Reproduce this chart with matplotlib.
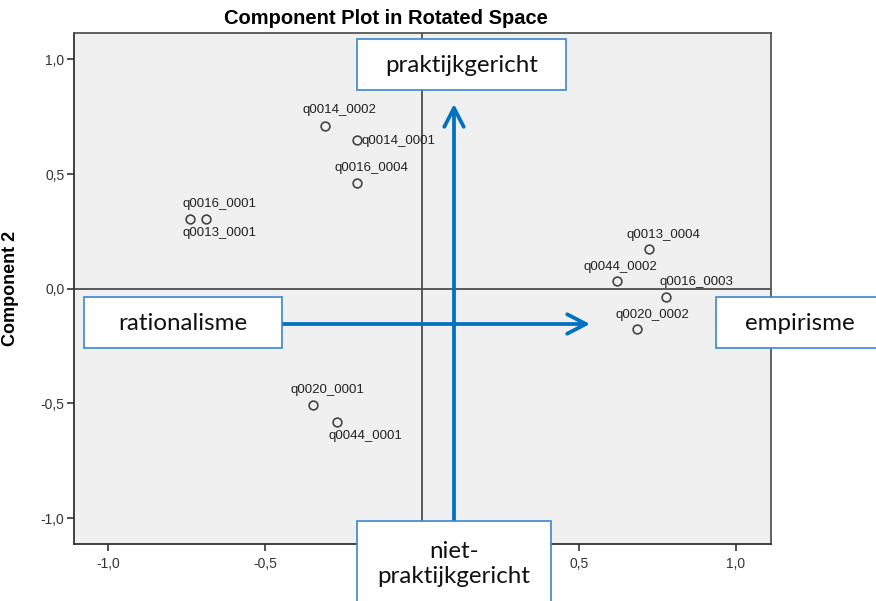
import matplotlib
matplotlib.use('Agg')
import matplotlib.pyplot as plt
from matplotlib.patches import Rectangle, FancyArrowPatch
from matplotlib.ticker import FuncFormatter

# component loadings
names = ['q0014_0002', 'q0014_0001', 'q0016_0004', 'q0016_0001', 'q0013_0001',
         'q0020_0001', 'q0044_0001', 'q0013_0004', 'q0044_0002', 'q0016_0003',
         'q0020_0002']
comp1 = [-0.309, -0.207, -0.207, -0.688, -0.740, -0.346, -0.272,
         0.723, 0.620, 0.776, 0.686]
comp2 = [0.711, 0.648, 0.462, 0.305, 0.302, -0.507, -0.582,
         0.173, 0.035, -0.036, -0.177]
ticks = [-1.0, -0.5, 0.0, 0.5, 1.0]

# where SPSS put each label, relative to its point (pixels)
label_offsets = {
    'q0014_0002': (15, 15.5), 'q0014_0001': (42, -1), 'q0016_0004': (14, 15),
    'q0016_0001': (13.5, 15), 'q0013_0001': (30, -14), 'q0020_0001': (14.5, 15),
    'q0044_0001': (29, -13.5), 'q0013_0004': (14, 14.5), 'q0044_0002': (4, 13.5),
    'q0016_0003': (30.5, 15.3), 'q0020_0002': (15, 14.3),
}

W, H = 876, 601
fig = plt.figure(figsize=(W / 100, H / 100), dpi=100)
ax = fig.add_axes([74 / W, 1 - 544 / H, 696.7 / W, 511 / H])
ax.set_facecolor('#f0f0f0')

ax.axhline(0, color='#4d4d4d', lw=1.3, zorder=1)
ax.axvline(0, color='#4d4d4d', lw=1.3, zorder=1)

ax.plot(comp1, comp2, 'o', ms=6.3, mfc='none', mec='#444444', mew=1.2, zorder=3)
for n, x, y in zip(names, comp1, comp2):
    dx, dy = label_offsets[n]
    ax.annotate(n, (x, y), xytext=(dx, dy), textcoords='offset pixels',
                ha='center', va='center', fontsize=9.5,
                family='Liberation Sans', color='#222222')

ax.set_xlim(-1.108, 1.1105)
ax.set_ylim(-1.113, 1.115)
ax.set_xticks(ticks)
ax.set_yticks(ticks)
fmt = FuncFormatter(lambda v, p: f'{v:.1f}'.replace('.', ','))
# the x label at 0 sits under the "niet-praktijkgericht" box
xfmt = FuncFormatter(lambda v, p: '' if abs(v) < 1e-9 else f'{v:.1f}'.replace('.', ','))
ax.xaxis.set_major_formatter(xfmt)
ax.yaxis.set_major_formatter(fmt)
ax.tick_params(length=5, width=1.2, color='#333333', labelsize=10,
               labelcolor='#333333', pad=2)
ax.tick_params(axis='x', pad=4)
for lab in ax.get_xticklabels() + ax.get_yticklabels():
    lab.set_family('Liberation Sans')
for s in ['top', 'right']:
    ax.spines[s].set_color('#555555')
for s in ['left', 'bottom']:
    ax.spines[s].set_color('#333333')
for s in ax.spines.values():
    s.set_linewidth(1.3)

ax.set_ylabel('Component 2', fontsize=13, fontweight='bold',
              family='Liberation Sans', labelpad=6)
ax.yaxis.set_label_coords(-(74 - 19) / 696.7, 0.5)
fig.text(386 / W, 1 - 19 / H, 'Component Plot in Rotated Space', ha='center',
         va='center', fontsize=14.5, fontweight='bold', family='Liberation Sans')


def px(x, y):
    return x / W, 1 - y / H


blue = '#0070c0'
edge = '#3a87cf'
boxes = [
    ('praktijkgericht', 357.3, 39.3, 566, 90, 462, 65),
    ('rationalisme', 84, 297.3, 281.7, 348.3, 182.5, 323),
    ('empirisme', 715.7, 297.3, 890, 348.3, 800, 323),
    ('niet-\npraktijkgericht', 357.3, 521, 551, 620, 454, 564),
]
for txt, x0, y0, x1, y1, tx, ty in boxes:
    fig.patches.append(Rectangle(px(x0, y1), (x1 - x0) / W, (y1 - y0) / H,
                                 transform=fig.transFigure, fc='white',
                                 ec=edge, lw=1.2, zorder=5))
    fig.text(*px(tx, ty), txt, ha='center', va='center', fontsize=17.4,
             family='Lato', linespacing=1.25, zorder=6, color='#111111')

for a, b in [((454, 521), (454, 104)), ((282, 324), (590, 324))]:
    fig.patches.append(FancyArrowPatch(px(*a), px(*b), transform=fig.transFigure,
                                       arrowstyle='->,head_length=1.35,head_width=0.7',
                                       mutation_scale=10, lw=2.7, color=blue,
                                       shrinkA=0, shrinkB=0, zorder=4))

fig.savefig('out.png', dpi=100)
